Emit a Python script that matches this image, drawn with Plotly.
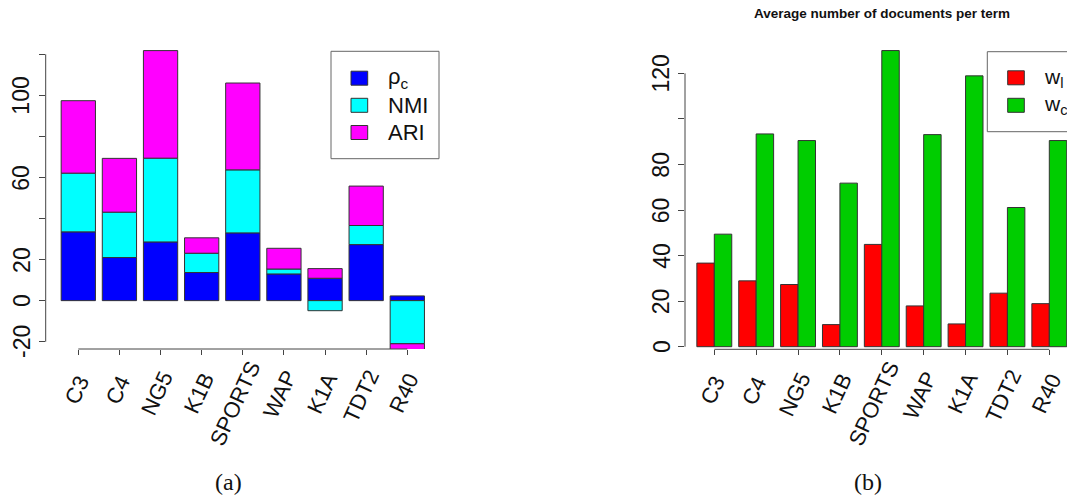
import math
import plotly.graph_objects as go

# ---------------- data ----------------
categories = ["C3", "C4", "NG5", "K1B", "SPORTS", "WAP", "K1A", "TDT2", "R40"]
rho_c = [33.5, 21.0, 28.6, 13.7, 33.0, 13.0, 10.9, 27.3, 2.3]
nmi = [28.6, 22.1, 40.8, 9.4, 30.7, 2.4, -4.9, 9.3, -21.0]
ari = [35.3, 26.2, 52.4, 7.5, 42.3, 10.1, 4.7, 19.2, -3.0]

w_l = [36.7, 28.9, 27.3, 9.7, 44.9, 17.9, 10.0, 23.5, 18.9]
w_c = [49.4, 93.4, 90.5, 71.8, 130.0, 93.1, 118.9, 61.1, 90.5]

left_ticks = [-20, 0, 20, 40, 60, 80, 100, 120]
left_ticklabels = ["-20", "0", "20", "", "60", "", "100", ""]
right_ticks = [0, 20, 40, 60, 80, 100, 120]
right_ticklabels = ["0", "20", "40", "60", "80", "", "120"]

# ---------------- layout helpers ----------------
W, H = 1067, 497
def px(x):
    return x / W
def py(y):
    return 1 - y / H

FONT = "Liberation Sans, Arial, sans-serif"
EDGE = "#333333"
AX = "#444444"
TXT = "#111111"

fig = go.Figure()

# left chart (stacked, relative)
for name, vals, col in [("ρ<sub>c</sub>", rho_c, "#0000FF"),
                        ("NMI", nmi, "#00FFFF"),
                        ("ARI", ari, "#FF00FF")]:
    fig.add_trace(go.Bar(x=categories, y=vals, name=name, marker_color=col,
                         marker_line=dict(color=EDGE, width=1),
                         xaxis="x", yaxis="y", showlegend=False))

# right chart (grouped)
for name, vals, col in [("w<sub>l</sub>", w_l, "#FF0000"),
                        ("w<sub>c</sub>", w_c, "#00CD00")]:
    fig.add_trace(go.Bar(x=categories, y=vals, name=name, marker_color=col,
                         marker_line=dict(color=EDGE, width=1),
                         xaxis="x2", yaxis="y2", showlegend=False,
                         offsetgroup=name))

# pixel geometry
L_x0, L_x1 = 45.7, 460.0
L_c0, L_pitch = 78.3, 41.125
L_ytop, L_ybot = 30.0, 349.0
L_zero, L_scale = 300.64, 2.0529

R_x0, R_x1 = 685.0, 1067.0
R_c0, R_pitch = 714.3, 41.875
R_ytop, R_ybot = 30.0, 349.3
R_zero, R_scale = 346.7, 2.278

common = dict(showgrid=False, zeroline=False, showline=False, showticklabels=False,
              ticks="outside", tickwidth=1, tickcolor=AX)

fig.update_layout(
    width=W, height=H,
    margin=dict(l=0, r=0, t=0, b=0),
    paper_bgcolor="white", plot_bgcolor="white",
    barmode="relative",
    bargap=1/6,
    xaxis=dict(domain=[px(L_x0), px(L_x1)],
               range=[(L_x0 - L_c0) / L_pitch, (L_x1 - L_c0) / L_pitch],
               anchor="y", ticklen=5, **common),
    yaxis=dict(domain=[py(L_ybot), py(L_ytop)],
               range=[-(L_ybot - L_zero) / L_scale, (L_zero - L_ytop) / L_scale],
               anchor="x", tickvals=left_ticks, ticklen=6, **common),
    xaxis2=dict(domain=[px(R_x0), px(R_x1)],
                range=[(R_x0 - R_c0) / R_pitch, (R_x1 - R_c0) / R_pitch],
                anchor="y2", ticklen=5, **common),
    yaxis2=dict(domain=[py(R_ybot), py(R_ytop)],
                range=[-(R_ybot - R_zero) / R_scale, (R_zero - R_ytop) / R_scale],
                anchor="x2", tickvals=right_ticks, ticklen=6, **common),
)

# R-style axis lines spanning only the tick range
n = len(categories)
shapes = [
    dict(type="line", xref="paper", yref="y", x0=px(L_x0), x1=px(L_x0),
         y0=min(left_ticks), y1=max(left_ticks), line=dict(color=AX, width=1)),
    dict(type="line", xref="paper", yref="y2", x0=px(R_x0), x1=px(R_x0),
         y0=min(right_ticks), y1=max(right_ticks), line=dict(color=AX, width=1)),
    dict(type="line", xref="x", yref="paper", x0=0, x1=n - 1,
         y0=py(L_ybot), y1=py(L_ybot), line=dict(color=AX, width=1)),
    dict(type="line", xref="x2", yref="paper", x0=0, x1=n - 1,
         y0=py(R_ybot), y1=py(R_ybot), line=dict(color=AX, width=1)),
]

annotations = []

# ---- y tick labels (rotated, R style) ----
YFS = 23
for ticks, labels, yref, xc in [(left_ticks, left_ticklabels, "y", 21.3),
                                (right_ticks, right_ticklabels, "y2", 661.2)]:
    for v, lab in zip(ticks, labels):
        if not lab:
            continue
        annotations.append(dict(xref="paper", yref=yref, x=px(xc), y=v,
                                xanchor="center", yanchor="middle", showarrow=False,
                                textangle=-90, text=lab,
                                font=dict(family=FONT, size=YFS, color=TXT)))

# ---- x tick labels (rotated 65 degrees, R text() style) ----
ADV = {"C": .722, "3": .556, "4": .556, "N": .722, "G": .778, "5": .556, "K": .667,
       "1": .556, "B": .667, "S": .667, "P": .667, "O": .778, "R": .722, "T": .611,
       "W": .944, "A": .667, "D": .722, "2": .556, "0": .556}
XFS = 22
ANG = 65
K_SHIFT, CX0, CY0 = 0.23, 1.0, 35.5
cs, sn = math.cos(math.radians(ANG)), math.sin(math.radians(ANG))
for xref, ybot in [("x", L_ybot), ("x2", R_ybot)]:
    for cat in categories:
        L = sum(ADV.get(ch, 0.6) for ch in cat) * XFS
        dx = CX0 - K_SHIFT * L * cs
        dy = CY0 + K_SHIFT * L * sn
        annotations.append(dict(xref=xref, yref="paper", x=cat, y=py(ybot),
                                xanchor="center", yanchor="middle", showarrow=False,
                                xshift=dx, yshift=-dy, textangle=-ANG, text=cat,
                                font=dict(family=FONT, size=XFS, color=TXT)))

# left legend
shapes.append(dict(type="rect", xref="paper", yref="paper",
                   x0=px(331), x1=px(439), y0=py(158.7), y1=py(51.3),
                   line=dict(color="#666666", width=1), fillcolor="rgba(0,0,0,0)"))
for (label, col), yc in zip([("ρ<sub>c</sub>", "#0000FF"), ("NMI", "#00FFFF"), ("ARI", "#FF00FF")],
                            [78.2, 105.3, 132.5]):
    shapes.append(dict(type="rect", xref="paper", yref="paper",
                       x0=px(351), x1=px(367.7), y0=py(yc + 7), y1=py(yc - 7),
                       line=dict(color=EDGE, width=1), fillcolor=col))
    annotations.append(dict(xref="paper", yref="paper", x=px(386), y=py(yc),
                            xanchor="left", yanchor="middle", showarrow=False,
                            text=label, font=dict(family=FONT, size=22, color=TXT)))

# right legend (cut by the page edge)
shapes.append(dict(type="rect", xref="paper", yref="paper",
                   x0=px(987.3), x1=px(1100), y0=py(131.7), y1=py(51.7),
                   line=dict(color="#666666", width=1), fillcolor="rgba(0,0,0,0)"))
for (label, col), yc in zip([("w<sub>l</sub>", "#FF0000"), ("w<sub>c</sub>", "#00CD00")],
                            [77.8, 105.3]):
    shapes.append(dict(type="rect", xref="paper", yref="paper",
                       x0=px(1007.7), x1=px(1024.3), y0=py(yc + 7), y1=py(yc - 7),
                       line=dict(color=EDGE, width=1), fillcolor=col))
    annotations.append(dict(xref="paper", yref="paper", x=px(1042), y=py(yc),
                            xanchor="left", yanchor="middle", showarrow=False,
                            text=label, font=dict(family=FONT, size=21, color=TXT)))

# title of right chart
annotations.append(dict(xref="paper", yref="paper", x=px(881.7), y=py(13.3),
                        xanchor="center", yanchor="middle", showarrow=False,
                        text="<b>Average number of documents per term</b>",
                        font=dict(family=FONT, size=13.5, color=TXT)))

# captions
for txt, xc in [("(a)", 228.0), ("(b)", 868.0)]:
    annotations.append(dict(xref="paper", yref="paper", x=px(xc), y=py(481.5),
                            xanchor="center", yanchor="middle", showarrow=False,
                            text=txt, font=dict(family="Liberation Serif, serif", size=24,
                                                color=TXT)))

fig.update_layout(shapes=shapes, annotations=annotations)

fig.write_html("out.html", config={"displayModeBar": False},
               post_script="document.body.style.margin='0';")
